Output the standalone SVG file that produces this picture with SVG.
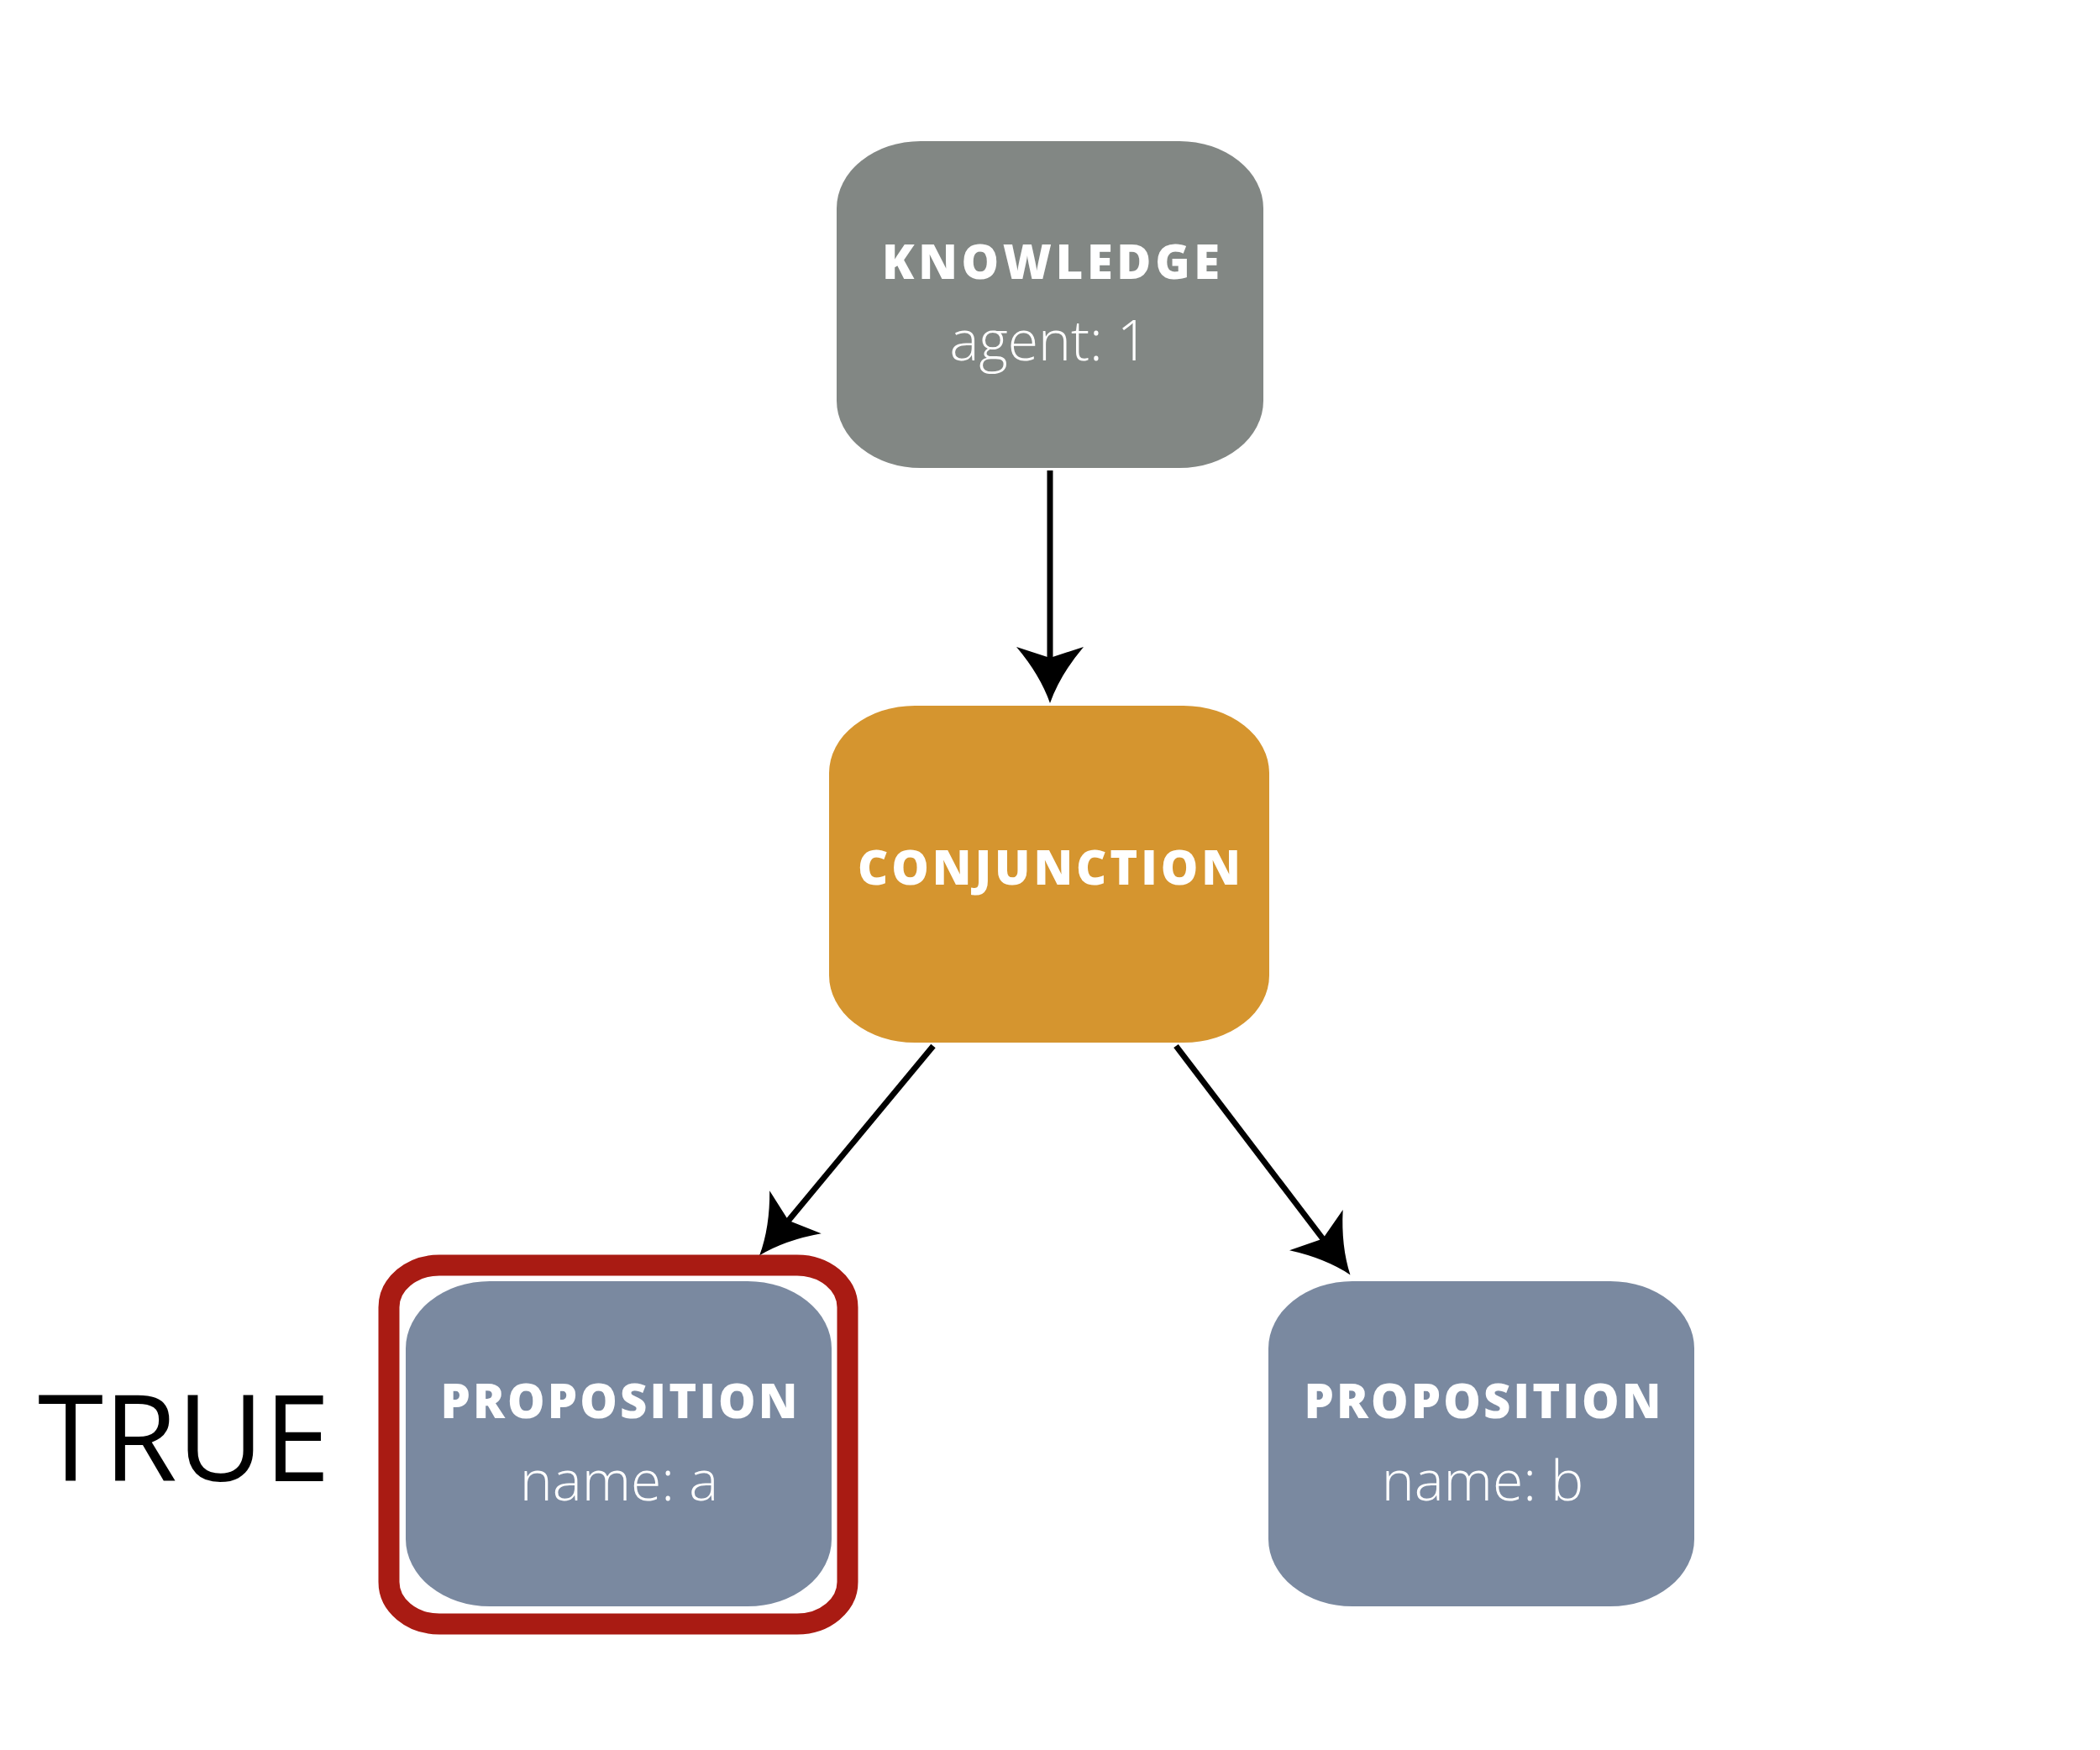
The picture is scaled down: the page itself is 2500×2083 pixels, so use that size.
<svg xmlns="http://www.w3.org/2000/svg" width="2500" height="2083" viewBox="0 0 2500 2083">
<style>
.title{font-family:"Open Sans","Liberation Sans",sans-serif;font-weight:800;font-size:56px;fill:#ffffff;text-anchor:middle}
.attr{font-family:"Open Sans","Liberation Sans",sans-serif;font-weight:300;font-size:66px;fill:#ffffff;text-anchor:middle}
.edge{stroke:#000000;stroke-width:7;fill:none}
.big{font-family:"Open Sans","Liberation Sans",sans-serif;font-size:142px;fill:#000000}
</style>
<defs>
<marker id="arrow" markerUnits="userSpaceOnUse" orient="auto" refX="0" refY="0" markerWidth="200" markerHeight="200" viewBox="-100 -100 200 200" overflow="visible">
<path d="M42,0 Q8,-12 -25,-40 L-12,0 L-25,40 Q8,12 42,0 Z" fill="#000000"/>
</marker>
</defs>
<rect width="2500" height="2083" fill="#ffffff"/>
<g id="node-knowledge">
<rect x="996" y="168" width="508" height="389" rx="100" ry="80" fill="#828784"/>
<text class="title" x="1251" y="332" textLength="402" lengthAdjust="spacing">KNOWLEDGE</text>
<text class="attr" x="1249" y="429">agent: 1</text>
</g>
<g id="node-conjunction">
<rect x="987" y="840" width="524" height="401" rx="102" ry="80" fill="#D5952F"/>
<text class="title" x="1249" y="1053" textLength="456" lengthAdjust="spacing">CONJUNCTION</text>
</g>
<g id="node-prop-a">
<rect x="463" y="1506" width="546" height="427" rx="60" ry="50" fill="none" stroke="#A91B13" stroke-width="25"/>
<rect x="483" y="1525" width="507" height="387" rx="100" ry="80" fill="#7A89A0"/>
<text class="title" x="737" y="1688" textLength="425" lengthAdjust="spacing">PROPOSITION</text>
<text class="attr" x="737" y="1786">name: a</text>
</g>
<g id="node-prop-b">
<rect x="1510" y="1525" width="507" height="387" rx="100" ry="80" fill="#7A89A0"/>
<text class="title" x="1765" y="1688" textLength="425" lengthAdjust="spacing">PROPOSITION</text>
<text class="attr" x="1765" y="1786">name: b</text>
</g>
<g id="label-true">
<text class="big" x="45" y="1763">TRUE</text>
</g>
<g id="connectors">
<line class="edge" x1="1250" y1="560" x2="1250" y2="795" marker-end="url(#arrow)"/>
<line class="edge" x1="1111" y1="1245" x2="931" y2="1462" marker-end="url(#arrow)"/>
<line class="edge" x1="1400" y1="1245" x2="1582" y2="1484" marker-end="url(#arrow)"/>
</g>
</svg>
